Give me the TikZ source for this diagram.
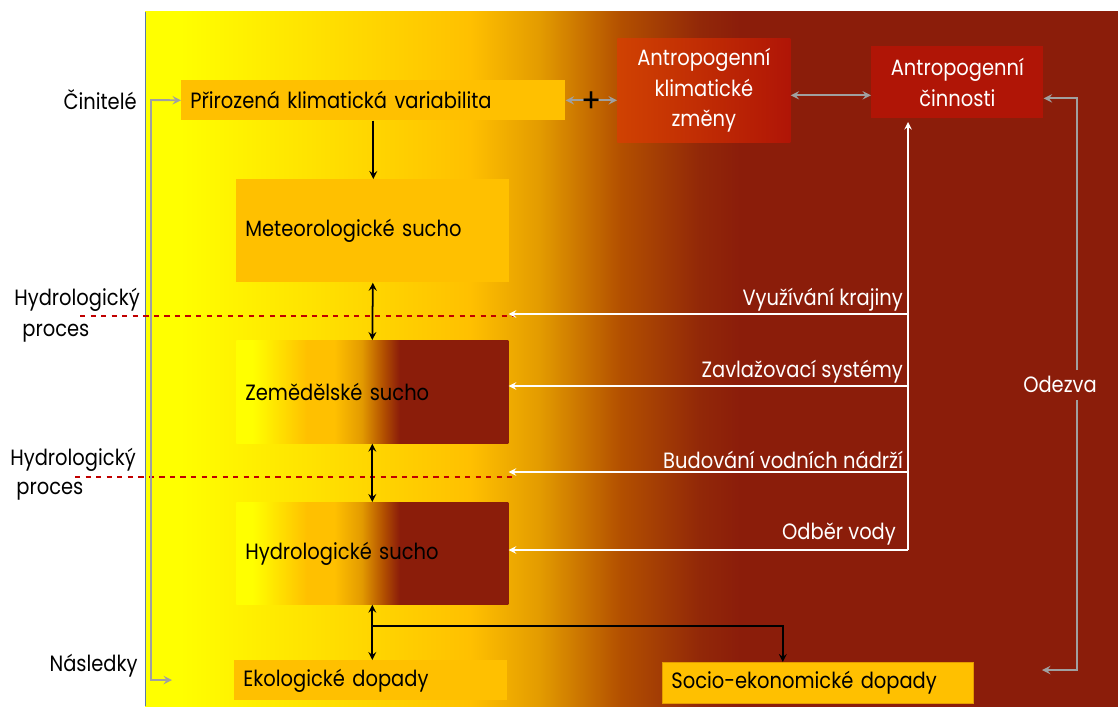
\documentclass[tikz,border=0pt]{standalone}
\usepackage{fontspec}
\setmainfont{Poppins}[FakeStretch=0.88]
\usetikzlibrary{calc}

\definecolor{zluta}{HTML}{FFFF00}
\definecolor{zlata}{HTML}{FFC000}
\definecolor{oranz}{HTML}{E39B00}
\definecolor{rez}{HTML}{B35000}
\definecolor{tmava}{HTML}{922808}
\definecolor{hneda}{HTML}{8B1D0A}
\definecolor{cervena}{HTML}{B01506}
\definecolor{cihla}{HTML}{D04202}
\definecolor{seda}{HTML}{A0A0A0}
\definecolor{carky}{HTML}{C00000}
\definecolor{okraj}{HTML}{5A7BA8}

% pozadi: 145px..1118px -> 25bp..75bp
\pgfdeclarehorizontalshading{pozadi}{100bp}{color(0bp)=(zluta); color(26.8bp)=(zluta); color(41.7bp)=(zlata); color(45.3bp)=(oranz); color(49.4bp)=(rez); color(53.5bp)=(tmava); color(55.6bp)=(hneda); color(100bp)=(hneda)}
% sucho: 236px..508px -> 25bp..75bp
\pgfdeclarehorizontalshading{sucho}{100bp}{color(0bp)=(zluta); color(28bp)=(zluta); color(38bp)=(zlata); color(43bp)=(zlata); color(48bp)=(oranz); color(52bp)=(rez); color(55bp)=(hneda); color(100bp)=(hneda)}

\begin{document}
\begin{tikzpicture}[x=0.02cm,y=-0.02cm,>=stealth,
		font=\fontsize{12.6}{17.5}\selectfont,
		box/.style={rectangle,anchor=north west,inner ysep=0pt,inner xsep=0.18cm,align=left},
		ctverec/.style={rectangle,anchor=north west,inner sep=0pt,align=center,text=white},
		vlevo/.style={anchor=west,inner xsep=0pt},
		cerna/.style={line width=1pt,black},
		sedaf/.style={line width=1.1pt,seda},
		bila/.style={line width=0.9pt,white},
		popis/.style={text=white,anchor=south east,inner sep=1pt}]
				\useasboundingbox (0,0) rectangle (1118,706);
				\shade[shading=pozadi] (145,12) rectangle (1118,706);
				\draw[okraj,line width=0.5pt] (145,12) -- (145,706);
				% bloky
				\node[box,fill=zlata,text width=7.32cm,minimum height=0.8cm] (pkv) at (181,80) {Přirozená klimatická variabilita};
				\node[box,fill=zlata,text width=5.10cm,minimum height=2.06cm] (meteo) at (236,179) {Meteorologické sucho};
				\node[box,shading=sucho,text width=5.08cm,minimum height=2.06cm] (zem) at (236,340) {Zemědělské sucho};
				\node[box,shading=sucho,text width=5.08cm,minimum height=2.04cm] (hyd) at (236,502) {Hydrologické sucho};
				\node[box,fill=zlata,text width=5.10cm,minimum height=0.8cm] (eko) at (234,660) {Ekologické dopady};
				\node[box,fill=zlata,draw=oranz,line width=0.4pt,text width=5.86cm,minimum height=0.82cm] (socio) at (662,662) {Socio-ekonomické dopady};
				\node[ctverec,left color=cihla,right color=cervena,minimum width=3.46cm,minimum height=2.08cm] (akz) at (617,38) {Antropogenní\\klimatické\\změny};
				\node[ctverec,fill=cervena,minimum width=3.44cm,minimum height=1.44cm] (cin) at (871,46) {Antropogenní\\činnosti};
				% popisky vlevo
				\node[anchor=east,inner xsep=0pt] (cinitele) at (137,100) {Činitelé};
				\node[vlevo] (hp1) at (14,300) {Hydrologický};
				\node[vlevo] (pr1) at (22,333) {proces};
				\node[vlevo] (hp2) at (10,460) {Hydrologický};
				\node[vlevo] (pr2) at (16,491) {proces};
				\node[anchor=east,inner xsep=0pt] (nasledky) at (138,666) {Následky};
				\draw[carky,line width=0.9pt,dash pattern=on 3pt off 3pt] (80,316) -- (515,316);
				\draw[carky,line width=0.9pt,dash pattern=on 3pt off 3pt] (75,477) -- (515,477);
				% sede sipky
				\coordinate (nas) at (172,680);
				\draw[sedaf,<->] (nas) -| (151,100) -- (pkv.west);
				\draw[sedaf,<->] (pkv.east) -- (pkv.east -| akz.west);
				\node[font=\fontsize{19}{19}\selectfont,inner sep=0pt] (plus) at (592,102) {+};
				\coordinate (a1) at ($(akz.east)+(0,5)$);
				\draw[sedaf,<->] (a1) -- (a1 -| cin.west);
				\node[text=white] (odezva) at (1060,384) {Odezva};
				\coordinate (od1) at (1077,370);
				\coordinate (od2) at (1077,400);
				\coordinate (odk) at (1042,670);
				\draw[sedaf,->] (od1) |- ($(cin.east)+(0,16)$);
				\draw[sedaf,->] (od2) |- (odk);
				% cerne sipky
				\draw[cerna,->] (pkv.south) -- (pkv.south |- meteo.north);
				\draw[cerna,<->] (meteo.south) -- (zem.north);
				\draw[cerna,<->] (zem.south) -- (hyd.north);
				\draw[cerna,<->] (hyd.south) -- (hyd.south |- eko.north);
				\coordinate (vet) at ($(hyd.south)+(0,21)$);
				\draw[cerna,->] (vet) -| ($(socio.north)+(-35,0)$);
				% bile sipky
				\coordinate (vk) at (908,314);
				\coordinate (zs) at (908,386);
				\coordinate (bv) at (908,472);
				\coordinate (ov) at (908,550);
				\draw[bila,->] (ov) -- (908,122);
				\draw[bila,->] (vk) -- (vk -| zem.east);
				\draw[bila,->] (zs) -- (zs -| zem.east);
				\draw[bila,->] (bv) -- (bv -| zem.east);
				\draw[bila,->] (ov) -- (ov -| hyd.east);
				\node[popis] (l1) at (905,313) {Využívání krajiny};
				\node[popis] (l2) at (905,385) {Zavlažovací systémy};
				\node[popis] (l3) at (905,471) {Budování vodních nádrží};
				\node[popis] (l4) at (898,547) {Odběr vody};
		\end{tikzpicture}
\end{document}
